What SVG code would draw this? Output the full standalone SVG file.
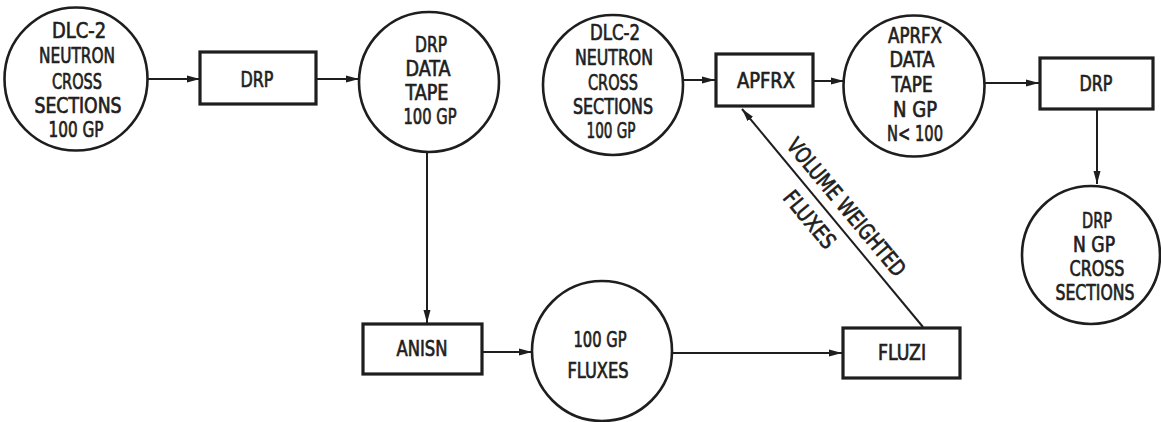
<svg xmlns="http://www.w3.org/2000/svg" width="1161" height="422" viewBox="0 0 1161 422">
<style>
.c{fill:none;stroke:#1e1e1e;stroke-width:2.6}
.b{fill:none;stroke:#1e1e1e;stroke-width:3.2}
.k{fill:none;stroke:#1e1e1e;stroke-width:2;marker-end:url(#ah)}
text{font-family:"DejaVu Sans Condensed","DejaVu Sans",sans-serif;font-size:22px;fill:#1e1e1e;stroke:#1e1e1e;stroke-width:0.7;text-anchor:middle}
</style>
<defs>
<marker id="ah" markerUnits="userSpaceOnUse" markerWidth="14" markerHeight="8" refX="13" refY="4" orient="auto">
<path d="M0,0.5 L13,4 L0,7.5 z" fill="#1e1e1e"/>
</marker>
</defs>
<rect width="1161" height="422" fill="#fff"/>
<g id="connectors">
<line class="k" x1="147" y1="79" x2="200" y2="79"/>
<line class="k" x1="316" y1="79" x2="359" y2="79"/>
<line class="k" x1="427" y1="152" x2="427" y2="323"/>
<line class="k" x1="482" y1="352" x2="532" y2="352"/>
<line class="k" x1="672" y1="353" x2="842" y2="353"/>
<line class="k" x1="682" y1="80" x2="715" y2="80"/>
<line class="k" x1="813" y1="81" x2="844" y2="81"/>
<line class="k" x1="984" y1="83" x2="1039" y2="83"/>
<line class="k" x1="1097" y1="109" x2="1097" y2="184"/>
<line class="k" x1="923" y1="327" x2="742" y2="109"/>
<g transform="translate(742,108) rotate(50.2)">
<text x="143" y="-9" textLength="172" lengthAdjust="spacingAndGlyphs">VOLUME WEIGHTED</text>
<text x="129" y="27" textLength="68" lengthAdjust="spacingAndGlyphs">FLUXES</text>
</g>
</g>
<g id="n1">
<circle class="c" cx="76" cy="79" r="71.5"/>
<text x="79" y="38" textLength="54" lengthAdjust="spacingAndGlyphs">DLC-2</text>
<text x="77" y="63" textLength="76" lengthAdjust="spacingAndGlyphs">NEUTRON</text>
<text x="77" y="89" textLength="50" lengthAdjust="spacingAndGlyphs">CROSS</text>
<text x="78" y="113" textLength="87" lengthAdjust="spacingAndGlyphs">SECTIONS</text>
<text x="76" y="137" textLength="55" lengthAdjust="spacingAndGlyphs">100 GP</text>
</g>
<g id="n2">
<rect class="b" x="200" y="52" width="116" height="52"/>
<text x="257" y="87" textLength="33" lengthAdjust="spacingAndGlyphs">DRP</text>
</g>
<g id="n3">
<circle class="c" cx="429" cy="82" r="70"/>
<text x="431" y="52" textLength="32" lengthAdjust="spacingAndGlyphs">DRP</text>
<text x="428" y="76" textLength="45" lengthAdjust="spacingAndGlyphs">DATA</text>
<text x="427" y="100" textLength="43" lengthAdjust="spacingAndGlyphs">TAPE</text>
<text x="430" y="124" textLength="53" lengthAdjust="spacingAndGlyphs">100 GP</text>
</g>
<g id="n4">
<rect class="b" x="363" y="324" width="119" height="50"/>
<text x="422" y="356" textLength="51" lengthAdjust="spacingAndGlyphs">ANISN</text>
</g>
<g id="n5">
<circle class="c" cx="602" cy="351" r="70"/>
<text x="600" y="347" textLength="53" lengthAdjust="spacingAndGlyphs">100 GP</text>
<text x="598" y="378" textLength="61" lengthAdjust="spacingAndGlyphs">FLUXES</text>
</g>
<g id="n6">
<rect class="b" x="843" y="328" width="117" height="50"/>
<text x="902" y="360" textLength="48" lengthAdjust="spacingAndGlyphs">FLUZI</text>
</g>
<g id="n7">
<circle class="c" cx="613" cy="85" r="70"/>
<text x="615" y="40" textLength="50" lengthAdjust="spacingAndGlyphs">DLC-2</text>
<text x="614" y="65" textLength="78" lengthAdjust="spacingAndGlyphs">NEUTRON</text>
<text x="613" y="90" textLength="50" lengthAdjust="spacingAndGlyphs">CROSS</text>
<text x="613" y="114" textLength="80" lengthAdjust="spacingAndGlyphs">SECTIONS</text>
<text x="611" y="138" textLength="49" lengthAdjust="spacingAndGlyphs">100 GP</text>
</g>
<g id="n8">
<rect class="b" x="716" y="54" width="97" height="52"/>
<text x="766" y="88" textLength="58" lengthAdjust="spacingAndGlyphs">APFRX</text>
</g>
<g id="n9">
<circle class="c" cx="914" cy="86" r="70.5"/>
<text x="915" y="43" textLength="54" lengthAdjust="spacingAndGlyphs">APRFX</text>
<text x="912" y="67" textLength="45" lengthAdjust="spacingAndGlyphs">DATA</text>
<text x="912" y="92" textLength="41" lengthAdjust="spacingAndGlyphs">TAPE</text>
<text x="915" y="117" textLength="44" lengthAdjust="spacingAndGlyphs">N GP</text>
<text x="915" y="141" textLength="56" lengthAdjust="spacingAndGlyphs">N&lt; 100</text>
</g>
<g id="n10">
<rect class="b" x="1040" y="58" width="113" height="51"/>
<text x="1096" y="91" textLength="33" lengthAdjust="spacingAndGlyphs">DRP</text>
</g>
<g id="n11">
<circle class="c" cx="1091" cy="255" r="69"/>
<text x="1097" y="228" textLength="30" lengthAdjust="spacingAndGlyphs">DRP</text>
<text x="1094" y="252" textLength="42" lengthAdjust="spacingAndGlyphs">N GP</text>
<text x="1097" y="276" textLength="55" lengthAdjust="spacingAndGlyphs">CROSS</text>
<text x="1095" y="300" textLength="79" lengthAdjust="spacingAndGlyphs">SECTIONS</text>
</g>
</svg>
